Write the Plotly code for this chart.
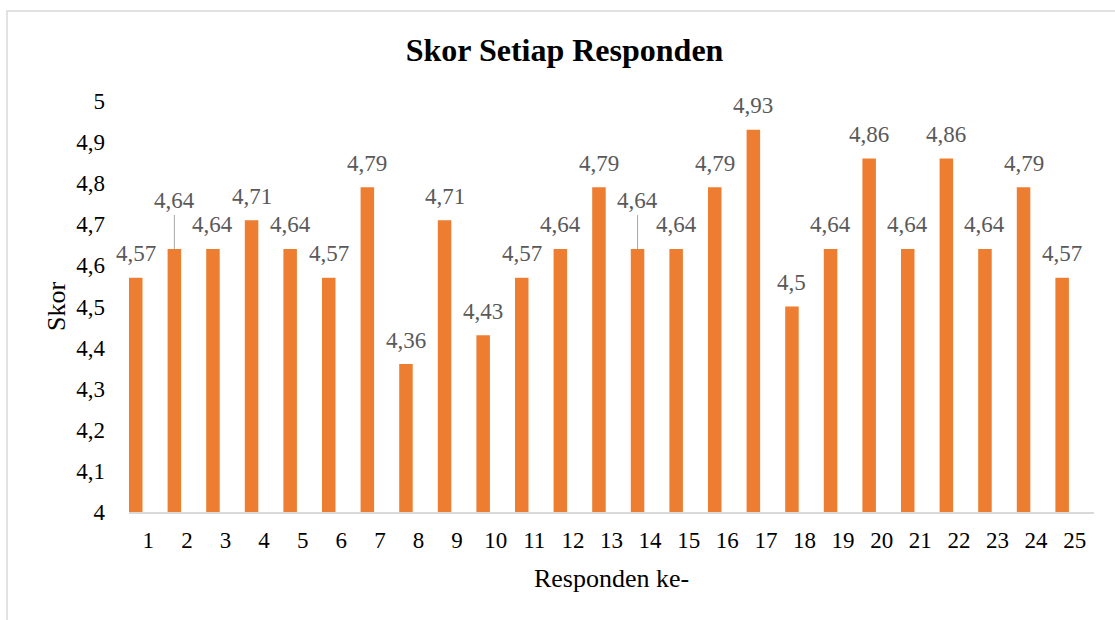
import plotly.graph_objects as go

responden = list(range(1, 26))
skor = [4.57, 4.64, 4.64, 4.71, 4.64, 4.57, 4.79, 4.36, 4.71, 4.43,
        4.57, 4.64, 4.79, 4.64, 4.64, 4.79, 4.93, 4.5, 4.64, 4.86,
        4.64, 4.86, 4.64, 4.79, 4.57]
y_ticks = [4.0, 4.1, 4.2, 4.3, 4.4, 4.5, 4.6, 4.7, 4.8, 4.9, 5.0]
y_ticklabels = ["4", "4,1", "4,2", "4,3", "4,4", "4,5", "4,6", "4,7", "4,8", "4,9", "5"]
leader_idx = [2, 14]  # labels with leader lines

FONT = "Liberation Serif, Times New Roman, serif"
BAR_W = 0.35
BAR_OFF = -0.5

def fmt(v):
    s = ("%.2f" % v).rstrip("0").rstrip(".")
    return s.replace(".", ",")

fig = go.Figure()
fig.add_trace(go.Bar(
    x=responden, y=skor, width=BAR_W, offset=BAR_OFF,
    marker=dict(color="#ED7D31", line=dict(width=0)),
    hoverinfo="x+y", showlegend=False,
))

annotations = []
for r, v in zip(responden, skor):
    xc = r + BAR_OFF + BAR_W / 2
    if r in leader_idx:
        annotations.append(dict(
            x=xc, y=v, xref="x", yref="y", text=fmt(v),
            showarrow=True, arrowhead=0, arrowwidth=1, arrowcolor="#A6A6A6",
            ax=0, ay=-48, standoff=0,
            font=dict(family=FONT, size=23, color="#595959"),
        ))
    else:
        annotations.append(dict(
            x=xc, y=v, xref="x", yref="y", text=fmt(v),
            showarrow=False, yanchor="middle", yshift=24,
            font=dict(family=FONT, size=23, color="#595959"),
        ))

fig.update_layout(
    width=1115, height=620,
    margin=dict(l=129, r=21, t=101, b=108),
    paper_bgcolor="white", plot_bgcolor="white",
    font=dict(family=FONT, color="#000000"),
    title=dict(text="<b>Skor Setiap Responden</b>", x=0.5063, xref="container",
               xanchor="center", y=1 - 50 / 620, yanchor="middle",
               font=dict(family=FONT, size=32, color="#000000")),
    bargap=0.5,
    annotations=annotations,
    shapes=[dict(type="rect", xref="paper", yref="paper",
                 x0=(7 - 129) / 965, x1=(1125 - 129) / 965,
                 y0=(512 - 630) / 411, y1=(512 - 11) / 411,
                 line=dict(color="#D9D9D9", width=1.5), fillcolor="rgba(0,0,0,0)",
                 layer="below")],
)
fig.update_xaxes(
    type="linear", range=[0.5, 25.5], tickmode="array", tickvals=responden,
    ticktext=[str(r) for r in responden],
    showgrid=False, zeroline=False, showline=True, linecolor="#D9D9D9", linewidth=1.5,
    ticks="", ticklabelstandoff=7,
    tickfont=dict(family=FONT, size=23, color="#000000"),
    title=dict(text="Responden ke-", standoff=16,
               font=dict(family=FONT, size=26, color="#000000")),
)
fig.update_yaxes(
    range=[4, 5], tickmode="array", tickvals=y_ticks, ticktext=y_ticklabels,
    showgrid=False, zeroline=False, showline=False, ticks="",
    ticklabelstandoff=23,
    tickfont=dict(family=FONT, size=23, color="#000000"),
    title=dict(text="Skor", standoff=3,
               font=dict(family=FONT, size=26, color="#000000")),
)

fig.write_html("out.html", config={"displayModeBar": False},
               post_script="document.body.style.margin='0';document.body.style.overflow='hidden';")
